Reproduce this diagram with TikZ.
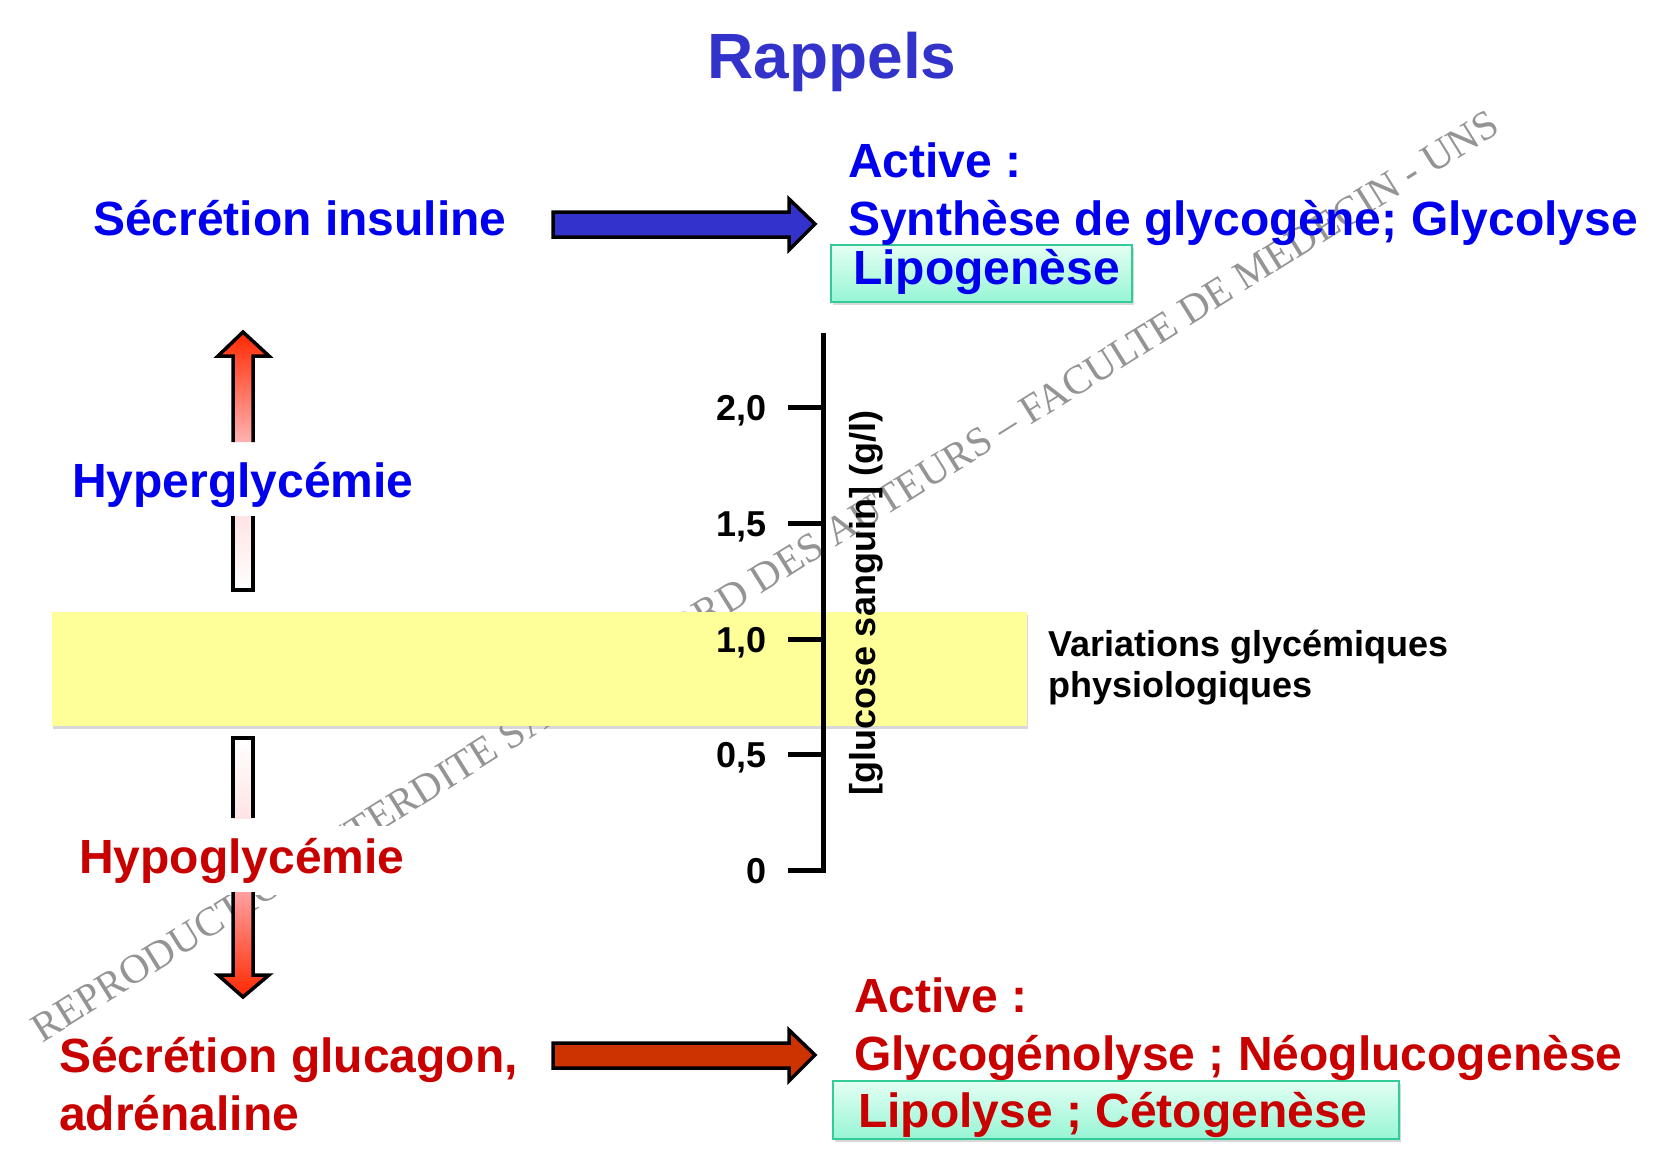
\documentclass[tikz,border=0pt]{standalone}
\usepackage{fontspec}
\setmainfont{Liberation Sans}
\newfontfamily\wmfont{Liberation Serif}
\usetikzlibrary{shadows}
\definecolor{titleblue}{RGB}{51,51,204}
\definecolor{txtblue}{RGB}{0,0,238}
\definecolor{txtred}{RGB}{200,0,0}
\definecolor{arrowblue}{RGB}{51,51,204}
\definecolor{arrowred}{RGB}{204,51,0}
\definecolor{bandyellow}{RGB}{255,255,153}
\definecolor{boxtop}{RGB}{228,255,244}
\definecolor{boxbot}{RGB}{150,245,212}
\definecolor{boxedge}{RGB}{51,204,153}
\definecolor{hot}{RGB}{255,40,0}
\definecolor{pinkA}{RGB}{255,178,178}
\definecolor{pinkB}{RGB}{255,228,228}
\definecolor{pinkC}{RGB}{255,160,160}
\begin{document}
\begin{tikzpicture}[x=1pt,y=-1pt,
  big/.style={font=\fontsize{48}{56}\selectfont\bfseries, inner sep=0pt},
  mid/.style={font=\fontsize{36}{42}\selectfont\bfseries, inner sep=0pt},
  blockarrow/.style={draw=black, line width=3.5pt, line join=miter},
  outline/.style={draw=black, line width=3.5pt, line join=miter},
  greenbox/.style={draw=boxedge, line width=2pt, top color=boxtop, bottom color=boxbot,
    drop shadow={shadow xshift=2pt, shadow yshift=-3pt, opacity=0.3}},
  tick/.style={line width=5pt},
]
\useasboundingbox (0,0) rectangle (1670,1164);
\fill[white] (0,0) rectangle (1670,1164);

% watermark
\node[font=\wmfont\fontsize{41}{41}\selectfont, text=black!42, rotate=32, inner sep=0pt] (wm) at (765,576)
  {REPRODUCTION INTERDITE SANS ACCORD DES AUTEURS – FACULTE DE MEDECIN - UNS};

% yellow band
\path[fill=bandyellow, drop shadow={shadow xshift=1pt, shadow yshift=-3pt, opacity=0.3}] (52,612) rectangle (1027,726);

% title
\node[font=\fontsize{64}{70}\selectfont\bfseries, text=titleblue, anchor=base, inner sep=0pt] (title) at (832,78) {Rappels};

% top block
\node[big, text=txtblue, anchor=base west] (insul) at (93,235) {Sécrétion insuline};
\draw[blockarrow, fill=arrowblue] (553,212) coordinate (ba) -- (789,212) -- (789,199) -- (815,224) coordinate (bt) -- (789,250) -- (789,237) -- (553,237) -- cycle;
\node[greenbox, minimum width=301pt, minimum height=57pt, anchor=north west, inner sep=0pt] (lipobox) at (830,244) {};
\node[big, text=txtblue, anchor=base west] (act1) at (848,177) {Active :};
\node[big, text=txtblue, anchor=base west] (synth) at (848,235) {Synthèse de glycogène; Glycolyse};
\node[big, text=txtblue, anchor=base west] (lipo) at (853,284) {Lipogenèse};

% up arrow (hyperglycemia)
\shade[top color=hot, bottom color=pinkA] (233,442) -- (233,356) -- (218,356) -- (243,332) -- (269,356) -- (253,356) -- (253,442) -- cycle;
\draw[outline] (233,442) -- (233,356) -- (218,356) -- (243,332) -- (269,356) -- (253,356) -- (253,442);
\shade[top color=pinkB, bottom color=white] (233,516) rectangle (253,590);
\draw[outline] (233,516) -- (233,590) -- (253,590) -- (253,516);
\node[big, text=txtblue, anchor=base west] (hyper) at (72,497) {Hyperglycémie};

% hypoglycemia label (white box hides the watermark behind it)
\node[big, text=txtred, anchor=base west, fill=white, inner xsep=6pt, inner ysep=12pt] (hypo) at (73,873) {Hypoglycémie};

% down arrow (hypoglycemia)
\shade[top color=white, bottom color=pinkB] (233,738) rectangle (253,818);
\draw[outline] (233,818) -- (233,738) -- (253,738) -- (253,818);
\shade[top color=pinkC, bottom color=hot] (233,892) -- (233,975) -- (218,975) -- (243,997) -- (269,975) -- (253,975) -- (253,892) -- cycle;
\draw[outline] (233,892) -- (233,975) -- (218,975) -- (243,997) -- (269,975) -- (253,975) -- (253,892);

% axis
\draw[tick, line join=miter] (823,333) -- (823,870) -- (788,870);
\foreach \yy/\lab in {407/{2,0}, 523/{1,5}, 639/{1,0}, 754/{0,5}} {
  \draw[tick] (788,\yy) -- (823,\yy);
  \node[mid, anchor=base east] at (767,\yy+13) {\lab};
}
\node[mid, anchor=base east] (zero) at (767,883) {0};
\node[mid, rotate=90] (ylab) at (866,603) {[glucose sanguin] (g/l)};
\node[mid, anchor=base west] (var1) at (1048,656) {Variations glycémiques};
\node[mid, anchor=base west] (var2) at (1048,697) {physiologiques};

% bottom block
\node[big, text=txtred, anchor=base west] (gluc) at (59,1072) {Sécrétion glucagon,};
\node[big, text=txtred, anchor=base west] (adr) at (59,1130) {adrénaline};
\draw[blockarrow, fill=arrowred] (553,1043) -- (789,1043) -- (789,1030) -- (815,1055) -- (789,1081) -- (789,1068) -- (553,1068) -- cycle;
\node[greenbox, minimum width=566pt, minimum height=58pt, anchor=north west, inner sep=0pt] (lipolbox) at (832,1080) {};
\node[big, text=txtred, anchor=base west] (act2) at (854,1012) {Active :};
\node[big, text=txtred, anchor=base west] (glyco) at (854,1070) {Glycogénolyse ; Néoglucogenèse};
\node[big, text=txtred, anchor=base west] (lipol) at (858,1127) {Lipolyse ; Cétogenèse};
\end{tikzpicture}
\end{document}
